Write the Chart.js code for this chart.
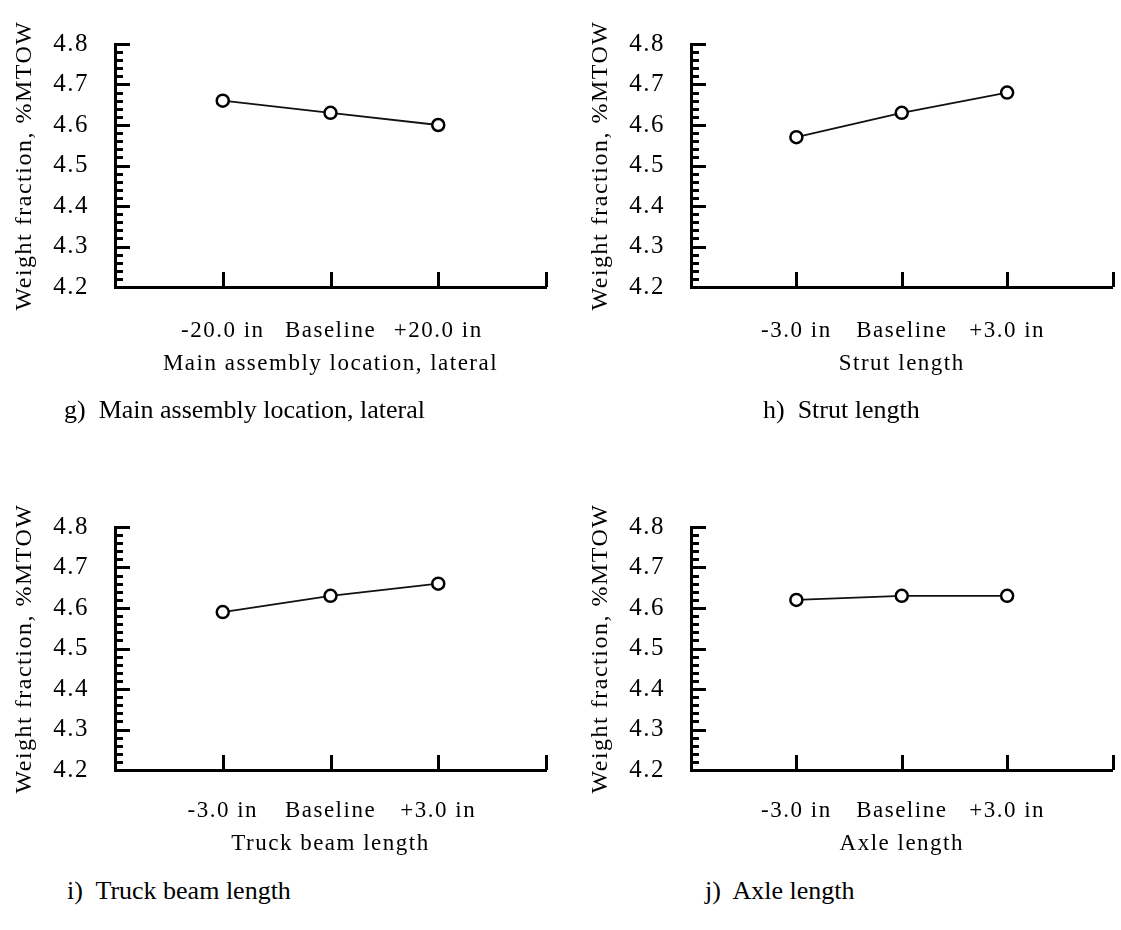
<!DOCTYPE html>
<html><head><meta charset="utf-8">
<script src="https://cdn.jsdelivr.net/npm/chart.js@4.4.1/dist/chart.umd.min.js"></script>
<style>
html,body{margin:0;padding:0;background:#fff;}
body{width:1121px;height:930px;position:relative;overflow:hidden;font-family:"Liberation Serif","Times New Roman",Times,"DejaVu Serif",serif;}
canvas{position:absolute;}
.cap{position:absolute;font-size:26px;white-space:pre;color:#000;line-height:30px;}
</style></head><body>
<canvas id="c0" width="560" height="400" style="left:0;top:0"></canvas>
<canvas id="c1" width="545" height="400" style="left:576px;top:0"></canvas>
<canvas id="c2" width="560" height="400" style="left:0;top:470px"></canvas>
<canvas id="c3" width="545" height="400" style="left:576px;top:470px"></canvas>
<div class="cap" id="cap0" style="left:64px;top:395px"></div>
<div class="cap" id="cap1" style="left:763px;top:395px"></div>
<div class="cap" id="cap2" style="left:67px;top:876px"></div>
<div class="cap" id="cap3" style="left:705px;top:876px"></div>
<script>
// ---- data ----
const xPositions = [1, 2, 3];
const xLabelsLateral = ['-20.0 in', 'Baseline', '+20.0 in'];
const xLabelsLength = ['-3.0 in', 'Baseline', '+3.0 in'];
const lateralValues = [4.66, 4.63, 4.60];
const strutValues = [4.57, 4.63, 4.68];
const truckBeamValues = [4.59, 4.63, 4.66];
const axleValues = [4.62, 4.63, 4.63];
const yTickValues = [4.2, 4.3, 4.4, 4.5, 4.6, 4.7, 4.8];
const yTickLabels = ['4.2', '4.3', '4.4', '4.5', '4.6', '4.7', '4.8'];
const yAxisTitle = 'Weight fraction, %MTOW';
const xAxisTitles = ['Main assembly location, lateral', 'Strut length', 'Truck beam length', 'Axle length'];
const captions = ['g)  Main assembly location, lateral', 'h)  Strut length', 'i)  Truck beam length', 'j)  Axle length'];

const Y_MIN = 4.2, Y_MAX = 4.8, Y_MINOR = 0.02, X_MIN = 0, X_MAX = 4;

Chart.defaults.font.family = '"Liberation Serif", "Times New Roman", Times, "DejaVu Serif", serif';
Chart.defaults.color = '#000';

const spacing = {
  id: 'spacing',
  beforeDraw(chart) { if ('letterSpacing' in chart.ctx) chart.ctx.letterSpacing = '1.5px'; }
};

const inwardTicks = {
  id: 'inwardTicks',
  afterDraw(chart) {
    const {ctx, chartArea: a, scales: {x, y}} = chart;
    ctx.save();
    ctx.strokeStyle = '#000';
    ctx.lineWidth = 3;
    const n = Math.round((Y_MAX - Y_MIN) / Y_MINOR);
    for (let i = 0; i <= n; i++) {
      const py = Math.round(y.getPixelForValue(Y_MIN + i * Y_MINOR)) + 0.5;
      const len = i % 5 === 0 ? 15 : 8;
      ctx.beginPath(); ctx.moveTo(a.left, py); ctx.lineTo(a.left + len, py); ctx.stroke();
    }
    for (let v = X_MIN + 1; v <= X_MAX; v++) {
      const px = Math.round(x.getPixelForValue(v)) + 0.5;
      ctx.beginPath(); ctx.moveTo(px, a.bottom); ctx.lineTo(px, a.bottom - 15); ctx.stroke();
    }
    ctx.restore();
  }
};

const panels = [
  {id: 'c0', cy: 0, ch: 400, cw: 560, T: 44, B: 287, R: 546, labels: xLabelsLateral, values: lateralValues, tickPad: 30, titleCenter: 364},
  {id: 'c1', cy: 0, ch: 400, cw: 545, T: 44, B: 287, R: 544, labels: xLabelsLength, values: strutValues, tickPad: 30, titleCenter: 364},
  {id: 'c2', cy: 470, ch: 400, cw: 560, T: 527, B: 770, R: 546, labels: xLabelsLength, values: truckBeamValues, tickPad: 27, titleCenter: 844},
  {id: 'c3', cy: 470, ch: 400, cw: 545, T: 527, B: 770, R: 544, labels: xLabelsLength, values: axleValues, tickPad: 27, titleCenter: 844}
];

panels.forEach((p, k) => {
  document.getElementById('cap' + k).textContent = captions[k];
  const xHeight = p.cy + p.ch - p.B;
  new Chart(document.getElementById(p.id), {
    type: 'line',
    data: {
      datasets: [{
        data: xPositions.map((xv, i) => ({x: xv, y: p.values[i]})),
        borderColor: '#111',
        borderWidth: 1.8,
        pointRadius: 6,
        pointBorderWidth: 2.5,
        pointBorderColor: '#000',
        pointBackgroundColor: '#fff',
        tension: 0
      }]
    },
    options: {
      responsive: false,
      animation: false,
      events: [],
      layout: {padding: {left: 0, top: p.T - p.cy, right: p.cw - p.R, bottom: 0}},
      plugins: {legend: {display: false}, tooltip: {enabled: false}},
      scales: {
        x: {
          type: 'linear', min: X_MIN, max: X_MAX,
          grid: {display: false, drawTicks: false},
          border: {display: true, color: '#000', width: 3},
          afterBuildTicks: s => { s.ticks = xPositions.map(v => ({value: v})); },
          afterFit: s => { s.height = xHeight; },
          ticks: {
            padding: p.tickPad, maxRotation: 0, autoSkip: false,
            font: {size: 23},
            callback: (v, i) => p.labels[i]
          },
          title: {display: true, text: xAxisTitles[k], font: {size: 23},
                  padding: {top: 0, bottom: p.cy + p.ch - p.titleCenter - 23 * 1.2 / 2}}
        },
        y: {
          type: 'linear', min: Y_MIN, max: Y_MAX,
          grid: {display: false, drawTicks: false},
          border: {display: true, color: '#000', width: 3},
          afterBuildTicks: s => { s.ticks = yTickValues.map(v => ({value: v})); },
          afterFit: s => { s.width = 115; },
          ticks: {padding: 26, font: {size: 25}, callback: (v, i) => yTickLabels[i]},
          title: {display: true, text: yAxisTitle, font: {size: 24}, padding: {top: 10, bottom: 0}}
        }
      }
    },
    plugins: [spacing, inwardTicks]
  });
});
</script>
</body></html>
